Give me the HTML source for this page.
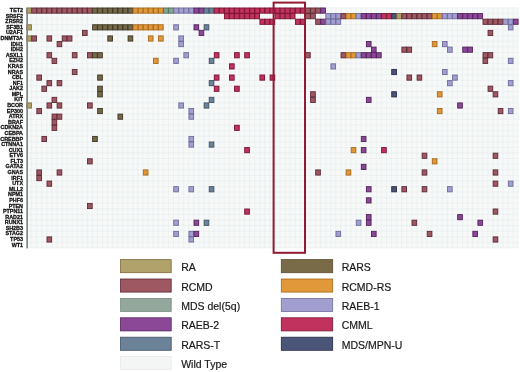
<!DOCTYPE html>
<html><head><meta charset="utf-8"><style>
html,body{margin:0;padding:0;background:#fff;}
body{width:520px;height:372px;overflow:hidden;}
svg{display:block;will-change:transform;filter:blur(0.3px);}
.g{font-family:"Liberation Sans",sans-serif;font-weight:bold;font-size:6px;fill:#111;stroke:#111;stroke-width:0.3px;}
.l{font-family:"Liberation Sans",sans-serif;font-size:10.5px;fill:#1a1a1a;stroke:#1a1a1a;stroke-width:0.2px;}
</style></head><body>
<svg width="520" height="372" viewBox="0 0 520 372">
<rect width="520" height="372" fill="#fff"/>
<rect x="26.5" y="7.8" width="491.79" height="240.07" fill="#f7f9f9"/>
<path d="M26.5 7.8V247.87M31.57 7.8V247.87M36.64 7.8V247.87M41.71 7.8V247.87M46.78 7.8V247.87M51.85 7.8V247.87M56.92 7.8V247.87M61.99 7.8V247.87M67.06 7.8V247.87M72.13 7.8V247.87M77.2 7.8V247.87M82.27 7.8V247.87M87.34 7.8V247.87M92.41 7.8V247.87M97.48 7.8V247.87M102.55 7.8V247.87M107.62 7.8V247.87M112.69 7.8V247.87M117.76 7.8V247.87M122.83 7.8V247.87M127.9 7.8V247.87M132.97 7.8V247.87M138.04 7.8V247.87M143.11 7.8V247.87M148.18 7.8V247.87M153.25 7.8V247.87M158.32 7.8V247.87M163.39 7.8V247.87M168.46 7.8V247.87M173.53 7.8V247.87M178.6 7.8V247.87M183.67 7.8V247.87M188.74 7.8V247.87M193.81 7.8V247.87M198.88 7.8V247.87M203.95 7.8V247.87M209.02 7.8V247.87M214.09 7.8V247.87M219.16 7.8V247.87M224.23 7.8V247.87M229.3 7.8V247.87M234.37 7.8V247.87M239.44 7.8V247.87M244.51 7.8V247.87M249.58 7.8V247.87M254.65 7.8V247.87M259.72 7.8V247.87M264.79 7.8V247.87M269.86 7.8V247.87M274.93 7.8V247.87M280 7.8V247.87M285.07 7.8V247.87M290.14 7.8V247.87M295.21 7.8V247.87M300.28 7.8V247.87M305.35 7.8V247.87M310.42 7.8V247.87M315.49 7.8V247.87M320.56 7.8V247.87M325.63 7.8V247.87M330.7 7.8V247.87M335.77 7.8V247.87M340.84 7.8V247.87M345.91 7.8V247.87M350.98 7.8V247.87M356.05 7.8V247.87M361.12 7.8V247.87M366.19 7.8V247.87M371.26 7.8V247.87M376.33 7.8V247.87M381.4 7.8V247.87M386.47 7.8V247.87M391.54 7.8V247.87M396.61 7.8V247.87M401.68 7.8V247.87M406.75 7.8V247.87M411.82 7.8V247.87M416.89 7.8V247.87M421.96 7.8V247.87M427.03 7.8V247.87M432.1 7.8V247.87M437.17 7.8V247.87M442.24 7.8V247.87M447.31 7.8V247.87M452.38 7.8V247.87M457.45 7.8V247.87M462.52 7.8V247.87M467.59 7.8V247.87M472.66 7.8V247.87M477.73 7.8V247.87M482.8 7.8V247.87M487.87 7.8V247.87M492.94 7.8V247.87M498.01 7.8V247.87M503.08 7.8V247.87M508.15 7.8V247.87M513.22 7.8V247.87M518.29 7.8V247.87M26.5 7.8H518.29M26.5 13.38H518.29M26.5 18.97H518.29M26.5 24.55H518.29M26.5 30.13H518.29M26.5 35.71H518.29M26.5 41.3H518.29M26.5 46.88H518.29M26.5 52.46H518.29M26.5 58.05H518.29M26.5 63.63H518.29M26.5 69.21H518.29M26.5 74.8H518.29M26.5 80.38H518.29M26.5 85.96H518.29M26.5 91.55H518.29M26.5 97.13H518.29M26.5 102.71H518.29M26.5 108.29H518.29M26.5 113.88H518.29M26.5 119.46H518.29M26.5 125.04H518.29M26.5 130.63H518.29M26.5 136.21H518.29M26.5 141.79H518.29M26.5 147.38H518.29M26.5 152.96H518.29M26.5 158.54H518.29M26.5 164.12H518.29M26.5 169.71H518.29M26.5 175.29H518.29M26.5 180.87H518.29M26.5 186.46H518.29M26.5 192.04H518.29M26.5 197.62H518.29M26.5 203.21H518.29M26.5 208.79H518.29M26.5 214.37H518.29M26.5 219.95H518.29M26.5 225.54H518.29M26.5 231.12H518.29M26.5 236.7H518.29M26.5 242.29H518.29M26.5 247.87H518.29" stroke="#e6ebeb" stroke-width="0.5" fill="none"/>
<rect x="26.7" y="8" width="4.67" height="5.18" fill="#b1a26c" stroke="#7a6c3c" stroke-width="0.9"/>
<rect x="31.77" y="8" width="4.67" height="5.18" fill="#9e5862" stroke="#5e2836" stroke-width="0.9"/>
<rect x="36.84" y="8" width="4.67" height="5.18" fill="#9e5862" stroke="#5e2836" stroke-width="0.9"/>
<rect x="41.91" y="8" width="4.67" height="5.18" fill="#9e5862" stroke="#5e2836" stroke-width="0.9"/>
<rect x="46.98" y="8" width="4.67" height="5.18" fill="#9e5862" stroke="#5e2836" stroke-width="0.9"/>
<rect x="52.05" y="8" width="4.67" height="5.18" fill="#9e5862" stroke="#5e2836" stroke-width="0.9"/>
<rect x="57.12" y="8" width="4.67" height="5.18" fill="#9e5862" stroke="#5e2836" stroke-width="0.9"/>
<rect x="62.19" y="8" width="4.67" height="5.18" fill="#9e5862" stroke="#5e2836" stroke-width="0.9"/>
<rect x="67.26" y="8" width="4.67" height="5.18" fill="#9e5862" stroke="#5e2836" stroke-width="0.9"/>
<rect x="72.33" y="8" width="4.67" height="5.18" fill="#9e5862" stroke="#5e2836" stroke-width="0.9"/>
<rect x="77.4" y="8" width="4.67" height="5.18" fill="#9e5862" stroke="#5e2836" stroke-width="0.9"/>
<rect x="82.47" y="8" width="4.67" height="5.18" fill="#9e5862" stroke="#5e2836" stroke-width="0.9"/>
<rect x="87.54" y="8" width="4.67" height="5.18" fill="#9e5862" stroke="#5e2836" stroke-width="0.9"/>
<rect x="92.61" y="8" width="4.67" height="5.18" fill="#76694a" stroke="#3e3520" stroke-width="0.9"/>
<rect x="97.68" y="8" width="4.67" height="5.18" fill="#76694a" stroke="#3e3520" stroke-width="0.9"/>
<rect x="102.75" y="8" width="4.67" height="5.18" fill="#76694a" stroke="#3e3520" stroke-width="0.9"/>
<rect x="107.82" y="8" width="4.67" height="5.18" fill="#76694a" stroke="#3e3520" stroke-width="0.9"/>
<rect x="112.89" y="8" width="4.67" height="5.18" fill="#76694a" stroke="#3e3520" stroke-width="0.9"/>
<rect x="117.96" y="8" width="4.67" height="5.18" fill="#76694a" stroke="#3e3520" stroke-width="0.9"/>
<rect x="123.03" y="8" width="4.67" height="5.18" fill="#76694a" stroke="#3e3520" stroke-width="0.9"/>
<rect x="128.1" y="8" width="4.67" height="5.18" fill="#76694a" stroke="#3e3520" stroke-width="0.9"/>
<rect x="133.17" y="8" width="4.67" height="5.18" fill="#e0983a" stroke="#a86818" stroke-width="0.9"/>
<rect x="138.24" y="8" width="4.67" height="5.18" fill="#e0983a" stroke="#a86818" stroke-width="0.9"/>
<rect x="143.31" y="8" width="4.67" height="5.18" fill="#e0983a" stroke="#a86818" stroke-width="0.9"/>
<rect x="148.38" y="8" width="4.67" height="5.18" fill="#e0983a" stroke="#a86818" stroke-width="0.9"/>
<rect x="153.45" y="8" width="4.67" height="5.18" fill="#e0983a" stroke="#a86818" stroke-width="0.9"/>
<rect x="158.52" y="8" width="4.67" height="5.18" fill="#e0983a" stroke="#a86818" stroke-width="0.9"/>
<rect x="163.59" y="8" width="4.67" height="5.18" fill="#86a893" stroke="#4f6e5c" stroke-width="0.9"/>
<rect x="168.66" y="8" width="4.67" height="5.18" fill="#86a893" stroke="#4f6e5c" stroke-width="0.9"/>
<rect x="173.73" y="8" width="4.67" height="5.18" fill="#a29fd0" stroke="#6f6c9c" stroke-width="0.9"/>
<rect x="178.8" y="8" width="4.67" height="5.18" fill="#a29fd0" stroke="#6f6c9c" stroke-width="0.9"/>
<rect x="183.87" y="8" width="4.67" height="5.18" fill="#a29fd0" stroke="#6f6c9c" stroke-width="0.9"/>
<rect x="188.94" y="8" width="4.67" height="5.18" fill="#a29fd0" stroke="#6f6c9c" stroke-width="0.9"/>
<rect x="194.01" y="8" width="4.67" height="5.18" fill="#8a4896" stroke="#55225f" stroke-width="0.9"/>
<rect x="199.08" y="8" width="4.67" height="5.18" fill="#8a4896" stroke="#55225f" stroke-width="0.9"/>
<rect x="204.15" y="8" width="4.67" height="5.18" fill="#6b8298" stroke="#3e5366" stroke-width="0.9"/>
<rect x="209.22" y="8" width="4.67" height="5.18" fill="#6b8298" stroke="#3e5366" stroke-width="0.9"/>
<rect x="214.29" y="8" width="4.67" height="5.18" fill="#c2325f" stroke="#7a1232" stroke-width="0.9"/>
<rect x="219.36" y="8" width="4.67" height="5.18" fill="#c2325f" stroke="#7a1232" stroke-width="0.9"/>
<rect x="224.43" y="8" width="4.67" height="5.18" fill="#c2325f" stroke="#7a1232" stroke-width="0.9"/>
<rect x="229.5" y="8" width="4.67" height="5.18" fill="#c2325f" stroke="#7a1232" stroke-width="0.9"/>
<rect x="234.57" y="8" width="4.67" height="5.18" fill="#c2325f" stroke="#7a1232" stroke-width="0.9"/>
<rect x="239.64" y="8" width="4.67" height="5.18" fill="#c2325f" stroke="#7a1232" stroke-width="0.9"/>
<rect x="244.71" y="8" width="4.67" height="5.18" fill="#c2325f" stroke="#7a1232" stroke-width="0.9"/>
<rect x="249.78" y="8" width="4.67" height="5.18" fill="#c2325f" stroke="#7a1232" stroke-width="0.9"/>
<rect x="254.85" y="8" width="4.67" height="5.18" fill="#c2325f" stroke="#7a1232" stroke-width="0.9"/>
<rect x="259.92" y="8" width="4.67" height="5.18" fill="#c2325f" stroke="#7a1232" stroke-width="0.9"/>
<rect x="264.99" y="8" width="4.67" height="5.18" fill="#c2325f" stroke="#7a1232" stroke-width="0.9"/>
<rect x="270.06" y="8" width="4.67" height="5.18" fill="#c2325f" stroke="#7a1232" stroke-width="0.9"/>
<rect x="275.13" y="8" width="4.67" height="5.18" fill="#c2325f" stroke="#7a1232" stroke-width="0.9"/>
<rect x="280.2" y="8" width="4.67" height="5.18" fill="#c2325f" stroke="#7a1232" stroke-width="0.9"/>
<rect x="285.27" y="8" width="4.67" height="5.18" fill="#c2325f" stroke="#7a1232" stroke-width="0.9"/>
<rect x="290.34" y="8" width="4.67" height="5.18" fill="#c2325f" stroke="#7a1232" stroke-width="0.9"/>
<rect x="295.41" y="8" width="4.67" height="5.18" fill="#c2325f" stroke="#7a1232" stroke-width="0.9"/>
<rect x="300.48" y="8" width="4.67" height="5.18" fill="#c2325f" stroke="#7a1232" stroke-width="0.9"/>
<rect x="305.55" y="8" width="4.67" height="5.18" fill="#9e5862" stroke="#5e2836" stroke-width="0.9"/>
<rect x="310.62" y="8" width="4.67" height="5.18" fill="#9e5862" stroke="#5e2836" stroke-width="0.9"/>
<rect x="315.69" y="8" width="4.67" height="5.18" fill="#9e5862" stroke="#5e2836" stroke-width="0.9"/>
<rect x="320.76" y="8" width="4.67" height="5.18" fill="#8a4896" stroke="#55225f" stroke-width="0.9"/>
<rect x="224.43" y="13.58" width="4.67" height="5.18" fill="#c2325f" stroke="#7a1232" stroke-width="0.9"/>
<rect x="229.5" y="13.58" width="4.67" height="5.18" fill="#c2325f" stroke="#7a1232" stroke-width="0.9"/>
<rect x="234.57" y="13.58" width="4.67" height="5.18" fill="#c2325f" stroke="#7a1232" stroke-width="0.9"/>
<rect x="239.64" y="13.58" width="4.67" height="5.18" fill="#c2325f" stroke="#7a1232" stroke-width="0.9"/>
<rect x="244.71" y="13.58" width="4.67" height="5.18" fill="#c2325f" stroke="#7a1232" stroke-width="0.9"/>
<rect x="249.78" y="13.58" width="4.67" height="5.18" fill="#c2325f" stroke="#7a1232" stroke-width="0.9"/>
<rect x="254.85" y="13.58" width="4.67" height="5.18" fill="#c2325f" stroke="#7a1232" stroke-width="0.9"/>
<rect x="275.13" y="13.58" width="4.67" height="5.18" fill="#c2325f" stroke="#7a1232" stroke-width="0.9"/>
<rect x="280.2" y="13.58" width="4.67" height="5.18" fill="#c2325f" stroke="#7a1232" stroke-width="0.9"/>
<rect x="285.27" y="13.58" width="4.67" height="5.18" fill="#c2325f" stroke="#7a1232" stroke-width="0.9"/>
<rect x="290.34" y="13.58" width="4.67" height="5.18" fill="#c2325f" stroke="#7a1232" stroke-width="0.9"/>
<rect x="305.55" y="13.58" width="4.67" height="5.18" fill="#9e5862" stroke="#5e2836" stroke-width="0.9"/>
<rect x="310.62" y="13.58" width="4.67" height="5.18" fill="#9e5862" stroke="#5e2836" stroke-width="0.9"/>
<rect x="325.83" y="13.58" width="4.67" height="5.18" fill="#a29fd0" stroke="#6f6c9c" stroke-width="0.9"/>
<rect x="330.9" y="13.58" width="4.67" height="5.18" fill="#a29fd0" stroke="#6f6c9c" stroke-width="0.9"/>
<rect x="335.97" y="13.58" width="4.67" height="5.18" fill="#a29fd0" stroke="#6f6c9c" stroke-width="0.9"/>
<rect x="341.04" y="13.58" width="4.67" height="5.18" fill="#9e5862" stroke="#5e2836" stroke-width="0.9"/>
<rect x="346.11" y="13.58" width="4.67" height="5.18" fill="#e0983a" stroke="#a86818" stroke-width="0.9"/>
<rect x="351.18" y="13.58" width="4.67" height="5.18" fill="#e0983a" stroke="#a86818" stroke-width="0.9"/>
<rect x="356.25" y="13.58" width="4.67" height="5.18" fill="#a29fd0" stroke="#6f6c9c" stroke-width="0.9"/>
<rect x="361.32" y="13.58" width="4.67" height="5.18" fill="#8a4896" stroke="#55225f" stroke-width="0.9"/>
<rect x="366.39" y="13.58" width="4.67" height="5.18" fill="#8a4896" stroke="#55225f" stroke-width="0.9"/>
<rect x="371.46" y="13.58" width="4.67" height="5.18" fill="#8a4896" stroke="#55225f" stroke-width="0.9"/>
<rect x="376.53" y="13.58" width="4.67" height="5.18" fill="#8a4896" stroke="#55225f" stroke-width="0.9"/>
<rect x="381.6" y="13.58" width="4.67" height="5.18" fill="#c2325f" stroke="#7a1232" stroke-width="0.9"/>
<rect x="386.67" y="13.58" width="4.67" height="5.18" fill="#c2325f" stroke="#7a1232" stroke-width="0.9"/>
<rect x="391.74" y="13.58" width="4.67" height="5.18" fill="#4b5578" stroke="#262c48" stroke-width="0.9"/>
<rect x="396.81" y="13.58" width="4.67" height="5.18" fill="#b1a26c" stroke="#7a6c3c" stroke-width="0.9"/>
<rect x="401.88" y="13.58" width="4.67" height="5.18" fill="#9e5862" stroke="#5e2836" stroke-width="0.9"/>
<rect x="406.95" y="13.58" width="4.67" height="5.18" fill="#9e5862" stroke="#5e2836" stroke-width="0.9"/>
<rect x="412.02" y="13.58" width="4.67" height="5.18" fill="#9e5862" stroke="#5e2836" stroke-width="0.9"/>
<rect x="417.09" y="13.58" width="4.67" height="5.18" fill="#9e5862" stroke="#5e2836" stroke-width="0.9"/>
<rect x="422.16" y="13.58" width="4.67" height="5.18" fill="#9e5862" stroke="#5e2836" stroke-width="0.9"/>
<rect x="427.23" y="13.58" width="4.67" height="5.18" fill="#9e5862" stroke="#5e2836" stroke-width="0.9"/>
<rect x="432.3" y="13.58" width="4.67" height="5.18" fill="#e0983a" stroke="#a86818" stroke-width="0.9"/>
<rect x="437.37" y="13.58" width="4.67" height="5.18" fill="#e0983a" stroke="#a86818" stroke-width="0.9"/>
<rect x="442.44" y="13.58" width="4.67" height="5.18" fill="#a29fd0" stroke="#6f6c9c" stroke-width="0.9"/>
<rect x="447.51" y="13.58" width="4.67" height="5.18" fill="#a29fd0" stroke="#6f6c9c" stroke-width="0.9"/>
<rect x="452.58" y="13.58" width="4.67" height="5.18" fill="#a29fd0" stroke="#6f6c9c" stroke-width="0.9"/>
<rect x="457.65" y="13.58" width="4.67" height="5.18" fill="#8a4896" stroke="#55225f" stroke-width="0.9"/>
<rect x="462.72" y="13.58" width="4.67" height="5.18" fill="#8a4896" stroke="#55225f" stroke-width="0.9"/>
<rect x="467.79" y="13.58" width="4.67" height="5.18" fill="#8a4896" stroke="#55225f" stroke-width="0.9"/>
<rect x="472.86" y="13.58" width="4.67" height="5.18" fill="#8a4896" stroke="#55225f" stroke-width="0.9"/>
<rect x="477.93" y="13.58" width="4.67" height="5.18" fill="#8a4896" stroke="#55225f" stroke-width="0.9"/>
<rect x="259.92" y="19.17" width="4.67" height="5.18" fill="#c2325f" stroke="#7a1232" stroke-width="0.9"/>
<rect x="264.99" y="19.17" width="4.67" height="5.18" fill="#c2325f" stroke="#7a1232" stroke-width="0.9"/>
<rect x="270.06" y="19.17" width="4.67" height="5.18" fill="#c2325f" stroke="#7a1232" stroke-width="0.9"/>
<rect x="295.41" y="19.17" width="4.67" height="5.18" fill="#c2325f" stroke="#7a1232" stroke-width="0.9"/>
<rect x="300.48" y="19.17" width="4.67" height="5.18" fill="#c2325f" stroke="#7a1232" stroke-width="0.9"/>
<rect x="315.69" y="19.17" width="4.67" height="5.18" fill="#9e5862" stroke="#5e2836" stroke-width="0.9"/>
<rect x="320.76" y="19.17" width="4.67" height="5.18" fill="#8a4896" stroke="#55225f" stroke-width="0.9"/>
<rect x="325.83" y="19.17" width="4.67" height="5.18" fill="#a29fd0" stroke="#6f6c9c" stroke-width="0.9"/>
<rect x="330.9" y="19.17" width="4.67" height="5.18" fill="#a29fd0" stroke="#6f6c9c" stroke-width="0.9"/>
<rect x="335.97" y="19.17" width="4.67" height="5.18" fill="#a29fd0" stroke="#6f6c9c" stroke-width="0.9"/>
<rect x="483" y="19.17" width="4.67" height="5.18" fill="#9e5862" stroke="#5e2836" stroke-width="0.9"/>
<rect x="488.07" y="19.17" width="4.67" height="5.18" fill="#9e5862" stroke="#5e2836" stroke-width="0.9"/>
<rect x="493.14" y="19.17" width="4.67" height="5.18" fill="#9e5862" stroke="#5e2836" stroke-width="0.9"/>
<rect x="498.21" y="19.17" width="4.67" height="5.18" fill="#9e5862" stroke="#5e2836" stroke-width="0.9"/>
<rect x="503.28" y="19.17" width="4.67" height="5.18" fill="#a29fd0" stroke="#6f6c9c" stroke-width="0.9"/>
<rect x="508.35" y="19.17" width="4.67" height="5.18" fill="#a29fd0" stroke="#6f6c9c" stroke-width="0.9"/>
<rect x="513.42" y="19.17" width="4.67" height="5.18" fill="#8a4896" stroke="#55225f" stroke-width="0.9"/>
<rect x="26.7" y="24.75" width="4.67" height="5.18" fill="#b1a26c" stroke="#7a6c3c" stroke-width="0.9"/>
<rect x="92.61" y="24.75" width="4.67" height="5.18" fill="#76694a" stroke="#3e3520" stroke-width="0.9"/>
<rect x="97.68" y="24.75" width="4.67" height="5.18" fill="#76694a" stroke="#3e3520" stroke-width="0.9"/>
<rect x="102.75" y="24.75" width="4.67" height="5.18" fill="#76694a" stroke="#3e3520" stroke-width="0.9"/>
<rect x="107.82" y="24.75" width="4.67" height="5.18" fill="#76694a" stroke="#3e3520" stroke-width="0.9"/>
<rect x="112.89" y="24.75" width="4.67" height="5.18" fill="#76694a" stroke="#3e3520" stroke-width="0.9"/>
<rect x="117.96" y="24.75" width="4.67" height="5.18" fill="#76694a" stroke="#3e3520" stroke-width="0.9"/>
<rect x="123.03" y="24.75" width="4.67" height="5.18" fill="#76694a" stroke="#3e3520" stroke-width="0.9"/>
<rect x="128.1" y="24.75" width="4.67" height="5.18" fill="#76694a" stroke="#3e3520" stroke-width="0.9"/>
<rect x="133.17" y="24.75" width="4.67" height="5.18" fill="#e0983a" stroke="#a86818" stroke-width="0.9"/>
<rect x="138.24" y="24.75" width="4.67" height="5.18" fill="#e0983a" stroke="#a86818" stroke-width="0.9"/>
<rect x="143.31" y="24.75" width="4.67" height="5.18" fill="#e0983a" stroke="#a86818" stroke-width="0.9"/>
<rect x="148.38" y="24.75" width="4.67" height="5.18" fill="#e0983a" stroke="#a86818" stroke-width="0.9"/>
<rect x="153.45" y="24.75" width="4.67" height="5.18" fill="#e0983a" stroke="#a86818" stroke-width="0.9"/>
<rect x="158.52" y="24.75" width="4.67" height="5.18" fill="#e0983a" stroke="#a86818" stroke-width="0.9"/>
<rect x="173.73" y="24.75" width="4.67" height="5.18" fill="#a29fd0" stroke="#6f6c9c" stroke-width="0.9"/>
<rect x="194.01" y="24.75" width="4.67" height="5.18" fill="#8a4896" stroke="#55225f" stroke-width="0.9"/>
<rect x="204.15" y="24.75" width="4.67" height="5.18" fill="#6b8298" stroke="#3e5366" stroke-width="0.9"/>
<rect x="508.35" y="24.75" width="4.67" height="5.18" fill="#a29fd0" stroke="#6f6c9c" stroke-width="0.9"/>
<rect x="82.47" y="30.33" width="4.67" height="5.18" fill="#9e5862" stroke="#5e2836" stroke-width="0.9"/>
<rect x="199.08" y="30.33" width="4.67" height="5.18" fill="#8a4896" stroke="#55225f" stroke-width="0.9"/>
<rect x="488.07" y="30.33" width="4.67" height="5.18" fill="#9e5862" stroke="#5e2836" stroke-width="0.9"/>
<rect x="26.7" y="35.91" width="4.67" height="5.18" fill="#b1a26c" stroke="#7a6c3c" stroke-width="0.9"/>
<rect x="31.77" y="35.91" width="4.67" height="5.18" fill="#9e5862" stroke="#5e2836" stroke-width="0.9"/>
<rect x="46.98" y="35.91" width="4.67" height="5.18" fill="#9e5862" stroke="#5e2836" stroke-width="0.9"/>
<rect x="62.19" y="35.91" width="4.67" height="5.18" fill="#9e5862" stroke="#5e2836" stroke-width="0.9"/>
<rect x="67.26" y="35.91" width="4.67" height="5.18" fill="#9e5862" stroke="#5e2836" stroke-width="0.9"/>
<rect x="107.82" y="35.91" width="4.67" height="5.18" fill="#76694a" stroke="#3e3520" stroke-width="0.9"/>
<rect x="128.1" y="35.91" width="4.67" height="5.18" fill="#76694a" stroke="#3e3520" stroke-width="0.9"/>
<rect x="148.38" y="35.91" width="4.67" height="5.18" fill="#e0983a" stroke="#a86818" stroke-width="0.9"/>
<rect x="158.52" y="35.91" width="4.67" height="5.18" fill="#e0983a" stroke="#a86818" stroke-width="0.9"/>
<rect x="178.8" y="35.91" width="4.67" height="5.18" fill="#a29fd0" stroke="#6f6c9c" stroke-width="0.9"/>
<rect x="57.12" y="41.5" width="4.67" height="5.18" fill="#9e5862" stroke="#5e2836" stroke-width="0.9"/>
<rect x="178.8" y="41.5" width="4.67" height="5.18" fill="#a29fd0" stroke="#6f6c9c" stroke-width="0.9"/>
<rect x="366.39" y="41.5" width="4.67" height="5.18" fill="#8a4896" stroke="#55225f" stroke-width="0.9"/>
<rect x="432.3" y="41.5" width="4.67" height="5.18" fill="#e0983a" stroke="#a86818" stroke-width="0.9"/>
<rect x="442.44" y="41.5" width="4.67" height="5.18" fill="#a29fd0" stroke="#6f6c9c" stroke-width="0.9"/>
<rect x="371.46" y="47.08" width="4.67" height="5.18" fill="#8a4896" stroke="#55225f" stroke-width="0.9"/>
<rect x="401.88" y="47.08" width="4.67" height="5.18" fill="#9e5862" stroke="#5e2836" stroke-width="0.9"/>
<rect x="406.95" y="47.08" width="4.67" height="5.18" fill="#9e5862" stroke="#5e2836" stroke-width="0.9"/>
<rect x="447.51" y="47.08" width="4.67" height="5.18" fill="#a29fd0" stroke="#6f6c9c" stroke-width="0.9"/>
<rect x="462.72" y="47.08" width="4.67" height="5.18" fill="#8a4896" stroke="#55225f" stroke-width="0.9"/>
<rect x="467.79" y="47.08" width="4.67" height="5.18" fill="#8a4896" stroke="#55225f" stroke-width="0.9"/>
<rect x="46.98" y="52.66" width="4.67" height="5.18" fill="#9e5862" stroke="#5e2836" stroke-width="0.9"/>
<rect x="72.33" y="52.66" width="4.67" height="5.18" fill="#9e5862" stroke="#5e2836" stroke-width="0.9"/>
<rect x="87.54" y="52.66" width="4.67" height="5.18" fill="#9e5862" stroke="#5e2836" stroke-width="0.9"/>
<rect x="92.61" y="52.66" width="4.67" height="5.18" fill="#76694a" stroke="#3e3520" stroke-width="0.9"/>
<rect x="97.68" y="52.66" width="4.67" height="5.18" fill="#76694a" stroke="#3e3520" stroke-width="0.9"/>
<rect x="183.87" y="52.66" width="4.67" height="5.18" fill="#a29fd0" stroke="#6f6c9c" stroke-width="0.9"/>
<rect x="214.29" y="52.66" width="4.67" height="5.18" fill="#c2325f" stroke="#7a1232" stroke-width="0.9"/>
<rect x="234.57" y="52.66" width="4.67" height="5.18" fill="#c2325f" stroke="#7a1232" stroke-width="0.9"/>
<rect x="244.71" y="52.66" width="4.67" height="5.18" fill="#c2325f" stroke="#7a1232" stroke-width="0.9"/>
<rect x="305.55" y="52.66" width="4.67" height="5.18" fill="#9e5862" stroke="#5e2836" stroke-width="0.9"/>
<rect x="341.04" y="52.66" width="4.67" height="5.18" fill="#9e5862" stroke="#5e2836" stroke-width="0.9"/>
<rect x="346.11" y="52.66" width="4.67" height="5.18" fill="#e0983a" stroke="#a86818" stroke-width="0.9"/>
<rect x="351.18" y="52.66" width="4.67" height="5.18" fill="#e0983a" stroke="#a86818" stroke-width="0.9"/>
<rect x="356.25" y="52.66" width="4.67" height="5.18" fill="#a29fd0" stroke="#6f6c9c" stroke-width="0.9"/>
<rect x="361.32" y="52.66" width="4.67" height="5.18" fill="#8a4896" stroke="#55225f" stroke-width="0.9"/>
<rect x="366.39" y="52.66" width="4.67" height="5.18" fill="#8a4896" stroke="#55225f" stroke-width="0.9"/>
<rect x="371.46" y="52.66" width="4.67" height="5.18" fill="#8a4896" stroke="#55225f" stroke-width="0.9"/>
<rect x="376.53" y="52.66" width="4.67" height="5.18" fill="#8a4896" stroke="#55225f" stroke-width="0.9"/>
<rect x="483" y="52.66" width="4.67" height="5.18" fill="#9e5862" stroke="#5e2836" stroke-width="0.9"/>
<rect x="488.07" y="52.66" width="4.67" height="5.18" fill="#9e5862" stroke="#5e2836" stroke-width="0.9"/>
<rect x="52.05" y="58.25" width="4.67" height="5.18" fill="#9e5862" stroke="#5e2836" stroke-width="0.9"/>
<rect x="153.45" y="58.25" width="4.67" height="5.18" fill="#e0983a" stroke="#a86818" stroke-width="0.9"/>
<rect x="173.73" y="58.25" width="4.67" height="5.18" fill="#a29fd0" stroke="#6f6c9c" stroke-width="0.9"/>
<rect x="209.22" y="58.25" width="4.67" height="5.18" fill="#6b8298" stroke="#3e5366" stroke-width="0.9"/>
<rect x="483" y="58.25" width="4.67" height="5.18" fill="#9e5862" stroke="#5e2836" stroke-width="0.9"/>
<rect x="508.35" y="58.25" width="4.67" height="5.18" fill="#a29fd0" stroke="#6f6c9c" stroke-width="0.9"/>
<rect x="229.5" y="63.83" width="4.67" height="5.18" fill="#c2325f" stroke="#7a1232" stroke-width="0.9"/>
<rect x="330.9" y="63.83" width="4.67" height="5.18" fill="#a29fd0" stroke="#6f6c9c" stroke-width="0.9"/>
<rect x="72.33" y="69.41" width="4.67" height="5.18" fill="#9e5862" stroke="#5e2836" stroke-width="0.9"/>
<rect x="391.74" y="69.41" width="4.67" height="5.18" fill="#4b5578" stroke="#262c48" stroke-width="0.9"/>
<rect x="442.44" y="69.41" width="4.67" height="5.18" fill="#a29fd0" stroke="#6f6c9c" stroke-width="0.9"/>
<rect x="36.84" y="75" width="4.67" height="5.18" fill="#9e5862" stroke="#5e2836" stroke-width="0.9"/>
<rect x="97.68" y="75" width="4.67" height="5.18" fill="#76694a" stroke="#3e3520" stroke-width="0.9"/>
<rect x="214.29" y="75" width="4.67" height="5.18" fill="#c2325f" stroke="#7a1232" stroke-width="0.9"/>
<rect x="229.5" y="75" width="4.67" height="5.18" fill="#c2325f" stroke="#7a1232" stroke-width="0.9"/>
<rect x="259.92" y="75" width="4.67" height="5.18" fill="#c2325f" stroke="#7a1232" stroke-width="0.9"/>
<rect x="270.06" y="75" width="4.67" height="5.18" fill="#c2325f" stroke="#7a1232" stroke-width="0.9"/>
<rect x="406.95" y="75" width="4.67" height="5.18" fill="#9e5862" stroke="#5e2836" stroke-width="0.9"/>
<rect x="417.09" y="75" width="4.67" height="5.18" fill="#9e5862" stroke="#5e2836" stroke-width="0.9"/>
<rect x="452.58" y="75" width="4.67" height="5.18" fill="#a29fd0" stroke="#6f6c9c" stroke-width="0.9"/>
<rect x="46.98" y="80.58" width="4.67" height="5.18" fill="#9e5862" stroke="#5e2836" stroke-width="0.9"/>
<rect x="57.12" y="80.58" width="4.67" height="5.18" fill="#9e5862" stroke="#5e2836" stroke-width="0.9"/>
<rect x="209.22" y="80.58" width="4.67" height="5.18" fill="#6b8298" stroke="#3e5366" stroke-width="0.9"/>
<rect x="447.51" y="80.58" width="4.67" height="5.18" fill="#a29fd0" stroke="#6f6c9c" stroke-width="0.9"/>
<rect x="508.35" y="80.58" width="4.67" height="5.18" fill="#a29fd0" stroke="#6f6c9c" stroke-width="0.9"/>
<rect x="41.91" y="86.16" width="4.67" height="5.18" fill="#9e5862" stroke="#5e2836" stroke-width="0.9"/>
<rect x="97.68" y="86.16" width="4.67" height="5.18" fill="#76694a" stroke="#3e3520" stroke-width="0.9"/>
<rect x="214.29" y="86.16" width="4.67" height="5.18" fill="#c2325f" stroke="#7a1232" stroke-width="0.9"/>
<rect x="234.57" y="86.16" width="4.67" height="5.18" fill="#c2325f" stroke="#7a1232" stroke-width="0.9"/>
<rect x="488.07" y="86.16" width="4.67" height="5.18" fill="#9e5862" stroke="#5e2836" stroke-width="0.9"/>
<rect x="97.68" y="91.75" width="4.67" height="5.18" fill="#76694a" stroke="#3e3520" stroke-width="0.9"/>
<rect x="310.62" y="91.75" width="4.67" height="5.18" fill="#9e5862" stroke="#5e2836" stroke-width="0.9"/>
<rect x="391.74" y="91.75" width="4.67" height="5.18" fill="#4b5578" stroke="#262c48" stroke-width="0.9"/>
<rect x="437.37" y="91.75" width="4.67" height="5.18" fill="#e0983a" stroke="#a86818" stroke-width="0.9"/>
<rect x="493.14" y="91.75" width="4.67" height="5.18" fill="#9e5862" stroke="#5e2836" stroke-width="0.9"/>
<rect x="52.05" y="97.33" width="4.67" height="5.18" fill="#9e5862" stroke="#5e2836" stroke-width="0.9"/>
<rect x="209.22" y="97.33" width="4.67" height="5.18" fill="#6b8298" stroke="#3e5366" stroke-width="0.9"/>
<rect x="310.62" y="97.33" width="4.67" height="5.18" fill="#9e5862" stroke="#5e2836" stroke-width="0.9"/>
<rect x="366.39" y="97.33" width="4.67" height="5.18" fill="#8a4896" stroke="#55225f" stroke-width="0.9"/>
<rect x="26.7" y="102.91" width="4.67" height="5.18" fill="#b1a26c" stroke="#7a6c3c" stroke-width="0.9"/>
<rect x="46.98" y="102.91" width="4.67" height="5.18" fill="#9e5862" stroke="#5e2836" stroke-width="0.9"/>
<rect x="57.12" y="102.91" width="4.67" height="5.18" fill="#9e5862" stroke="#5e2836" stroke-width="0.9"/>
<rect x="87.54" y="102.91" width="4.67" height="5.18" fill="#9e5862" stroke="#5e2836" stroke-width="0.9"/>
<rect x="178.8" y="102.91" width="4.67" height="5.18" fill="#a29fd0" stroke="#6f6c9c" stroke-width="0.9"/>
<rect x="204.15" y="102.91" width="4.67" height="5.18" fill="#6b8298" stroke="#3e5366" stroke-width="0.9"/>
<rect x="457.65" y="102.91" width="4.67" height="5.18" fill="#8a4896" stroke="#55225f" stroke-width="0.9"/>
<rect x="36.84" y="108.49" width="4.67" height="5.18" fill="#9e5862" stroke="#5e2836" stroke-width="0.9"/>
<rect x="97.68" y="108.49" width="4.67" height="5.18" fill="#76694a" stroke="#3e3520" stroke-width="0.9"/>
<rect x="188.94" y="108.49" width="4.67" height="5.18" fill="#a29fd0" stroke="#6f6c9c" stroke-width="0.9"/>
<rect x="437.37" y="108.49" width="4.67" height="5.18" fill="#e0983a" stroke="#a86818" stroke-width="0.9"/>
<rect x="498.21" y="108.49" width="4.67" height="5.18" fill="#9e5862" stroke="#5e2836" stroke-width="0.9"/>
<rect x="508.35" y="108.49" width="4.67" height="5.18" fill="#a29fd0" stroke="#6f6c9c" stroke-width="0.9"/>
<rect x="52.05" y="114.08" width="4.67" height="5.18" fill="#9e5862" stroke="#5e2836" stroke-width="0.9"/>
<rect x="57.12" y="114.08" width="4.67" height="5.18" fill="#9e5862" stroke="#5e2836" stroke-width="0.9"/>
<rect x="117.96" y="114.08" width="4.67" height="5.18" fill="#76694a" stroke="#3e3520" stroke-width="0.9"/>
<rect x="188.94" y="114.08" width="4.67" height="5.18" fill="#a29fd0" stroke="#6f6c9c" stroke-width="0.9"/>
<rect x="52.05" y="119.66" width="4.67" height="5.18" fill="#9e5862" stroke="#5e2836" stroke-width="0.9"/>
<rect x="52.05" y="125.24" width="4.67" height="5.18" fill="#9e5862" stroke="#5e2836" stroke-width="0.9"/>
<rect x="234.57" y="125.24" width="4.67" height="5.18" fill="#c2325f" stroke="#7a1232" stroke-width="0.9"/>
<rect x="41.91" y="136.41" width="4.67" height="5.18" fill="#9e5862" stroke="#5e2836" stroke-width="0.9"/>
<rect x="92.61" y="136.41" width="4.67" height="5.18" fill="#76694a" stroke="#3e3520" stroke-width="0.9"/>
<rect x="188.94" y="136.41" width="4.67" height="5.18" fill="#a29fd0" stroke="#6f6c9c" stroke-width="0.9"/>
<rect x="361.32" y="136.41" width="4.67" height="5.18" fill="#8a4896" stroke="#55225f" stroke-width="0.9"/>
<rect x="188.94" y="141.99" width="4.67" height="5.18" fill="#a29fd0" stroke="#6f6c9c" stroke-width="0.9"/>
<rect x="209.22" y="141.99" width="4.67" height="5.18" fill="#6b8298" stroke="#3e5366" stroke-width="0.9"/>
<rect x="244.71" y="147.58" width="4.67" height="5.18" fill="#c2325f" stroke="#7a1232" stroke-width="0.9"/>
<rect x="351.18" y="147.58" width="4.67" height="5.18" fill="#e0983a" stroke="#a86818" stroke-width="0.9"/>
<rect x="361.32" y="147.58" width="4.67" height="5.18" fill="#8a4896" stroke="#55225f" stroke-width="0.9"/>
<rect x="381.6" y="147.58" width="4.67" height="5.18" fill="#c2325f" stroke="#7a1232" stroke-width="0.9"/>
<rect x="422.16" y="153.16" width="4.67" height="5.18" fill="#9e5862" stroke="#5e2836" stroke-width="0.9"/>
<rect x="493.14" y="153.16" width="4.67" height="5.18" fill="#9e5862" stroke="#5e2836" stroke-width="0.9"/>
<rect x="87.54" y="158.74" width="4.67" height="5.18" fill="#9e5862" stroke="#5e2836" stroke-width="0.9"/>
<rect x="432.3" y="158.74" width="4.67" height="5.18" fill="#e0983a" stroke="#a86818" stroke-width="0.9"/>
<rect x="361.32" y="164.32" width="4.67" height="5.18" fill="#8a4896" stroke="#55225f" stroke-width="0.9"/>
<rect x="36.84" y="169.91" width="4.67" height="5.18" fill="#9e5862" stroke="#5e2836" stroke-width="0.9"/>
<rect x="57.12" y="169.91" width="4.67" height="5.18" fill="#9e5862" stroke="#5e2836" stroke-width="0.9"/>
<rect x="143.31" y="169.91" width="4.67" height="5.18" fill="#e0983a" stroke="#a86818" stroke-width="0.9"/>
<rect x="315.69" y="169.91" width="4.67" height="5.18" fill="#9e5862" stroke="#5e2836" stroke-width="0.9"/>
<rect x="346.11" y="169.91" width="4.67" height="5.18" fill="#e0983a" stroke="#a86818" stroke-width="0.9"/>
<rect x="422.16" y="169.91" width="4.67" height="5.18" fill="#9e5862" stroke="#5e2836" stroke-width="0.9"/>
<rect x="493.14" y="169.91" width="4.67" height="5.18" fill="#9e5862" stroke="#5e2836" stroke-width="0.9"/>
<rect x="36.84" y="175.49" width="4.67" height="5.18" fill="#9e5862" stroke="#5e2836" stroke-width="0.9"/>
<rect x="46.98" y="181.07" width="4.67" height="5.18" fill="#9e5862" stroke="#5e2836" stroke-width="0.9"/>
<rect x="493.14" y="181.07" width="4.67" height="5.18" fill="#9e5862" stroke="#5e2836" stroke-width="0.9"/>
<rect x="508.35" y="181.07" width="4.67" height="5.18" fill="#a29fd0" stroke="#6f6c9c" stroke-width="0.9"/>
<rect x="173.73" y="186.66" width="4.67" height="5.18" fill="#a29fd0" stroke="#6f6c9c" stroke-width="0.9"/>
<rect x="188.94" y="186.66" width="4.67" height="5.18" fill="#a29fd0" stroke="#6f6c9c" stroke-width="0.9"/>
<rect x="209.22" y="186.66" width="4.67" height="5.18" fill="#6b8298" stroke="#3e5366" stroke-width="0.9"/>
<rect x="366.39" y="186.66" width="4.67" height="5.18" fill="#8a4896" stroke="#55225f" stroke-width="0.9"/>
<rect x="391.74" y="186.66" width="4.67" height="5.18" fill="#4b5578" stroke="#262c48" stroke-width="0.9"/>
<rect x="401.88" y="186.66" width="4.67" height="5.18" fill="#9e5862" stroke="#5e2836" stroke-width="0.9"/>
<rect x="422.16" y="186.66" width="4.67" height="5.18" fill="#9e5862" stroke="#5e2836" stroke-width="0.9"/>
<rect x="447.51" y="186.66" width="4.67" height="5.18" fill="#a29fd0" stroke="#6f6c9c" stroke-width="0.9"/>
<rect x="366.39" y="197.82" width="4.67" height="5.18" fill="#8a4896" stroke="#55225f" stroke-width="0.9"/>
<rect x="87.54" y="203.41" width="4.67" height="5.18" fill="#9e5862" stroke="#5e2836" stroke-width="0.9"/>
<rect x="244.71" y="208.99" width="4.67" height="5.18" fill="#c2325f" stroke="#7a1232" stroke-width="0.9"/>
<rect x="493.14" y="208.99" width="4.67" height="5.18" fill="#9e5862" stroke="#5e2836" stroke-width="0.9"/>
<rect x="366.39" y="214.57" width="4.67" height="5.18" fill="#8a4896" stroke="#55225f" stroke-width="0.9"/>
<rect x="457.65" y="214.57" width="4.67" height="5.18" fill="#8a4896" stroke="#55225f" stroke-width="0.9"/>
<rect x="173.73" y="220.15" width="4.67" height="5.18" fill="#a29fd0" stroke="#6f6c9c" stroke-width="0.9"/>
<rect x="194.01" y="220.15" width="4.67" height="5.18" fill="#8a4896" stroke="#55225f" stroke-width="0.9"/>
<rect x="204.15" y="220.15" width="4.67" height="5.18" fill="#6b8298" stroke="#3e5366" stroke-width="0.9"/>
<rect x="356.25" y="220.15" width="4.67" height="5.18" fill="#a29fd0" stroke="#6f6c9c" stroke-width="0.9"/>
<rect x="366.39" y="220.15" width="4.67" height="5.18" fill="#8a4896" stroke="#55225f" stroke-width="0.9"/>
<rect x="412.02" y="220.15" width="4.67" height="5.18" fill="#9e5862" stroke="#5e2836" stroke-width="0.9"/>
<rect x="477.93" y="220.15" width="4.67" height="5.18" fill="#8a4896" stroke="#55225f" stroke-width="0.9"/>
<rect x="173.73" y="231.32" width="4.67" height="5.18" fill="#a29fd0" stroke="#6f6c9c" stroke-width="0.9"/>
<rect x="188.94" y="231.32" width="4.67" height="5.18" fill="#a29fd0" stroke="#6f6c9c" stroke-width="0.9"/>
<rect x="194.01" y="231.32" width="4.67" height="5.18" fill="#8a4896" stroke="#55225f" stroke-width="0.9"/>
<rect x="335.97" y="231.32" width="4.67" height="5.18" fill="#a29fd0" stroke="#6f6c9c" stroke-width="0.9"/>
<rect x="371.46" y="231.32" width="4.67" height="5.18" fill="#8a4896" stroke="#55225f" stroke-width="0.9"/>
<rect x="427.23" y="231.32" width="4.67" height="5.18" fill="#9e5862" stroke="#5e2836" stroke-width="0.9"/>
<rect x="472.86" y="231.32" width="4.67" height="5.18" fill="#8a4896" stroke="#55225f" stroke-width="0.9"/>
<rect x="46.98" y="236.9" width="4.67" height="5.18" fill="#9e5862" stroke="#5e2836" stroke-width="0.9"/>
<rect x="188.94" y="236.9" width="4.67" height="5.18" fill="#a29fd0" stroke="#6f6c9c" stroke-width="0.9"/>
<rect x="493.14" y="236.9" width="4.67" height="5.18" fill="#9e5862" stroke="#5e2836" stroke-width="0.9"/>
<rect x="26.3" y="7.8" width="1.7" height="240.57" fill="#858889"/>
<text x="0" y="12.14" text-anchor="end" class="g" transform="translate(23.0 0) scale(0.9 1)">TET2</text>
<text x="0" y="17.72" text-anchor="end" class="g" transform="translate(23.0 0) scale(0.9 1)">SRSF2</text>
<text x="0" y="23.31" text-anchor="end" class="g" transform="translate(23.0 0) scale(0.9 1)">ZRSR2</text>
<text x="0" y="28.89" text-anchor="end" class="g" transform="translate(23.0 0) scale(0.9 1)">SF3B1</text>
<text x="0" y="34.47" text-anchor="end" class="g" transform="translate(23.0 0) scale(0.9 1)">U2AF1</text>
<text x="0" y="40.06" text-anchor="end" class="g" transform="translate(23.0 0) scale(0.9 1)">DNMT3A</text>
<text x="0" y="45.64" text-anchor="end" class="g" transform="translate(23.0 0) scale(0.9 1)">IDH1</text>
<text x="0" y="51.22" text-anchor="end" class="g" transform="translate(23.0 0) scale(0.9 1)">IDH2</text>
<text x="0" y="56.81" text-anchor="end" class="g" transform="translate(23.0 0) scale(0.9 1)">ASXL1</text>
<text x="0" y="62.39" text-anchor="end" class="g" transform="translate(23.0 0) scale(0.9 1)">EZH2</text>
<text x="0" y="67.97" text-anchor="end" class="g" transform="translate(23.0 0) scale(0.9 1)">KRAS</text>
<text x="0" y="73.55" text-anchor="end" class="g" transform="translate(23.0 0) scale(0.9 1)">NRAS</text>
<text x="0" y="79.14" text-anchor="end" class="g" transform="translate(23.0 0) scale(0.9 1)">CBL</text>
<text x="0" y="84.72" text-anchor="end" class="g" transform="translate(23.0 0) scale(0.9 1)">NF1</text>
<text x="0" y="90.3" text-anchor="end" class="g" transform="translate(23.0 0) scale(0.9 1)">JAK2</text>
<text x="0" y="95.89" text-anchor="end" class="g" transform="translate(23.0 0) scale(0.9 1)">MPL</text>
<text x="0" y="101.47" text-anchor="end" class="g" transform="translate(23.0 0) scale(0.9 1)">KIT</text>
<text x="0" y="107.05" text-anchor="end" class="g" transform="translate(23.0 0) scale(0.9 1)">BCOR</text>
<text x="0" y="112.64" text-anchor="end" class="g" transform="translate(23.0 0) scale(0.9 1)">EP300</text>
<text x="0" y="118.22" text-anchor="end" class="g" transform="translate(23.0 0) scale(0.9 1)">ATRX</text>
<text x="0" y="123.8" text-anchor="end" class="g" transform="translate(23.0 0) scale(0.9 1)">BRAF</text>
<text x="0" y="129.38" text-anchor="end" class="g" transform="translate(23.0 0) scale(0.9 1)">CDKN2A</text>
<text x="0" y="134.97" text-anchor="end" class="g" transform="translate(23.0 0) scale(0.9 1)">CEBPA</text>
<text x="0" y="140.55" text-anchor="end" class="g" transform="translate(23.0 0) scale(0.9 1)">CREBBP</text>
<text x="0" y="146.13" text-anchor="end" class="g" transform="translate(23.0 0) scale(0.9 1)">CTNNA1</text>
<text x="0" y="151.72" text-anchor="end" class="g" transform="translate(23.0 0) scale(0.9 1)">CUX1</text>
<text x="0" y="157.3" text-anchor="end" class="g" transform="translate(23.0 0) scale(0.9 1)">ETV6</text>
<text x="0" y="162.88" text-anchor="end" class="g" transform="translate(23.0 0) scale(0.9 1)">FLT3</text>
<text x="0" y="168.47" text-anchor="end" class="g" transform="translate(23.0 0) scale(0.9 1)">GATA2</text>
<text x="0" y="174.05" text-anchor="end" class="g" transform="translate(23.0 0) scale(0.9 1)">GNAS</text>
<text x="0" y="179.63" text-anchor="end" class="g" transform="translate(23.0 0) scale(0.9 1)">IRF1</text>
<text x="0" y="185.21" text-anchor="end" class="g" transform="translate(23.0 0) scale(0.9 1)">UTX</text>
<text x="0" y="190.8" text-anchor="end" class="g" transform="translate(23.0 0) scale(0.9 1)">MLL2</text>
<text x="0" y="196.38" text-anchor="end" class="g" transform="translate(23.0 0) scale(0.9 1)">NPM1</text>
<text x="0" y="201.96" text-anchor="end" class="g" transform="translate(23.0 0) scale(0.9 1)">PHF6</text>
<text x="0" y="207.55" text-anchor="end" class="g" transform="translate(23.0 0) scale(0.9 1)">PTEN</text>
<text x="0" y="213.13" text-anchor="end" class="g" transform="translate(23.0 0) scale(0.9 1)">PTPN11</text>
<text x="0" y="218.71" text-anchor="end" class="g" transform="translate(23.0 0) scale(0.9 1)">RAD21</text>
<text x="0" y="224.3" text-anchor="end" class="g" transform="translate(23.0 0) scale(0.9 1)">RUNX1</text>
<text x="0" y="229.88" text-anchor="end" class="g" transform="translate(23.0 0) scale(0.9 1)">SH2B3</text>
<text x="0" y="235.46" text-anchor="end" class="g" transform="translate(23.0 0) scale(0.9 1)">STAG2</text>
<text x="0" y="241.04" text-anchor="end" class="g" transform="translate(23.0 0) scale(0.9 1)">TP53</text>
<text x="0" y="246.63" text-anchor="end" class="g" transform="translate(23.0 0) scale(0.9 1)">WT1</text>
<rect x="273.6" y="2.6" width="31.4" height="250.2" fill="none" stroke="#921a32" stroke-width="2"/>
<rect x="120.5" y="259.6" width="50.7" height="13.1" fill="#b1a26c" stroke="#7a6c3c" stroke-width="0.8"/>
<text x="181.2" y="271.1" class="l">RA</text>
<rect x="120.5" y="279" width="50.7" height="13.1" fill="#9e5862" stroke="#5e2836" stroke-width="0.8"/>
<text x="181.2" y="290.5" class="l">RCMD</text>
<rect x="120.5" y="298.4" width="50.7" height="13.1" fill="#93a79d" stroke="#7a8e84" stroke-width="0.8"/>
<text x="181.2" y="309.9" class="l">MDS del(5q)</text>
<rect x="120.5" y="317.8" width="50.7" height="13.1" fill="#8a4896" stroke="#55225f" stroke-width="0.8"/>
<text x="181.2" y="329.3" class="l">RAEB-2</text>
<rect x="120.5" y="337.2" width="50.7" height="13.1" fill="#6b8298" stroke="#3e5366" stroke-width="0.8"/>
<text x="181.2" y="348.7" class="l">RARS-T</text>
<rect x="120.5" y="356.6" width="50.7" height="13.1" fill="#f4f5f5" stroke="#e8eaea" stroke-width="0.8"/>
<text x="181.2" y="368.1" class="l">Wild Type</text>
<rect x="281.3" y="259.6" width="51.4" height="13.1" fill="#7a6b48" stroke="#5a4e30" stroke-width="0.8"/>
<text x="341.7" y="271.1" class="l">RARS</text>
<rect x="281.3" y="279" width="51.4" height="13.1" fill="#e0983a" stroke="#a86818" stroke-width="0.8"/>
<text x="341.7" y="290.5" class="l">RCMD-RS</text>
<rect x="281.3" y="298.4" width="51.4" height="13.1" fill="#a29fd0" stroke="#6f6c9c" stroke-width="0.8"/>
<text x="341.7" y="309.9" class="l">RAEB-1</text>
<rect x="281.3" y="317.8" width="51.4" height="13.1" fill="#c2325f" stroke="#7a1232" stroke-width="0.8"/>
<text x="341.7" y="329.3" class="l">CMML</text>
<rect x="281.3" y="337.2" width="51.4" height="13.1" fill="#4b5578" stroke="#262c48" stroke-width="0.8"/>
<text x="341.7" y="348.7" class="l">MDS/MPN-U</text>
</svg>
</body></html>
